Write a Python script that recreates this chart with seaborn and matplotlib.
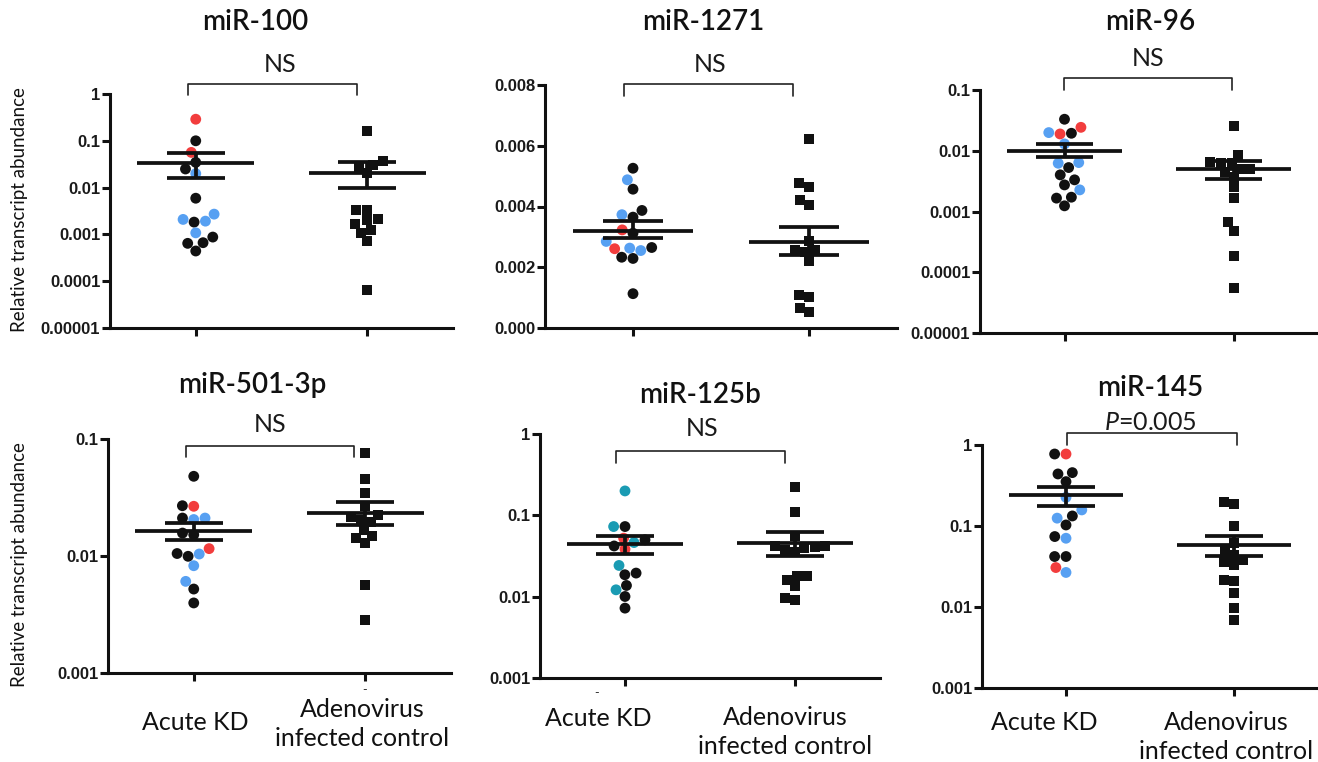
import numpy as np
import pandas as pd
import matplotlib
matplotlib.use("Agg")
import matplotlib.pyplot as plt
import seaborn as sns
from matplotlib import font_manager
from matplotlib.ticker import FixedLocator, FixedFormatter, NullLocator

# ---------------- data ----------------
groups = ["Acute KD", "Adenovirus infected control"]
titles = ["miR-100", "miR-1271", "miR-96", "miR-501-3p", "miR-125b", "miR-145"]
stat_labels = ["NS", "NS", "NS", "NS", "NS", "$P$=0.005"]

mir100_kd = [0.289, 0.0565, 0.100, 0.0346, 0.0250, 0.0199, 0.00593, 0.00209,
             0.00183, 0.00271, 0.00192, 0.00108, 0.000665, 0.000644, 0.000877, 0.000442]
mir100_kd_col = ["r", "r", "k", "k", "k", "b", "k", "b", "k", "b", "b", "b", "k", "k", "k", "k"]
mir100_ctrl = [0.163, 0.0308, 0.0275, 0.0363, 0.0205, 0.0034, 0.0033, 0.00209,
               0.00163, 0.00202, 0.00124, 0.00108, 0.000733, 0.0000654]

mir1271_kd = [0.00526, 0.00488, 0.00457, 0.00387, 0.00373, 0.00365, 0.00323, 0.00312,
              0.00285, 0.00265, 0.00261, 0.00255, 0.00263, 0.00233, 0.00229, 0.00113]
mir1271_kd_col = ["k", "b", "k", "k", "b", "k", "r", "k", "b", "k", "r", "b", "b", "k", "k", "k"]
mir1271_ctrl = [0.00621, 0.00477, 0.00464, 0.00422, 0.00405, 0.00285, 0.00258, 0.00249,
                0.00258, 0.00219, 0.00107, 0.00102, 0.00067, 0.000515]

mir96_kd = [0.0330, 0.0243, 0.0194, 0.0199, 0.0189, 0.01295, 0.00623, 0.00639,
            0.00529, 0.00401, 0.00332, 0.00274, 0.00227, 0.00172, 0.00166, 0.00124]
mir96_kd_col = ["k", "r", "k", "b", "r", "b", "b", "b", "k", "k", "k", "k", "b", "k", "k", "k"]
mir96_ctrl = [0.0256, 0.00855, 0.0066, 0.0064, 0.0063, 0.0050, 0.0050, 0.0045,
              0.0037, 0.00251, 0.00166, 0.00066, 0.00048, 0.000182, 0.0000549]

mir501_kd = [0.048, 0.0269, 0.0266, 0.0211, 0.0211, 0.0205, 0.0157, 0.0152,
             0.01156, 0.0104, 0.00994, 0.0105, 0.00826, 0.00607, 0.00522, 0.00397]
mir501_kd_col = ["k", "k", "r", "k", "b", "b", "k", "k", "r", "b", "k", "k", "b", "b", "k", "k"]
mir501_ctrl = [0.0759, 0.0455, 0.0345, 0.027, 0.0226, 0.0205, 0.0215, 0.0195,
               0.0168, 0.0149, 0.0143, 0.0129, 0.00569, 0.00282]

mir125_kd = [0.1995, 0.0728, 0.0728, 0.0524, 0.0463, 0.0384, 0.050, 0.042,
             0.0242, 0.0186, 0.0195, 0.01373, 0.01214, 0.01005, 0.00723]
mir125_kd_col = ["t", "k", "t", "r", "t", "r", "k", "k", "t", "k", "k", "k", "t", "k", "k"]
mir125_ctrl = [0.2256, 0.1112, 0.055, 0.0421, 0.042, 0.041, 0.040, 0.038, 0.035,
               0.0177, 0.0161, 0.0182, 0.01334, 0.00913, 0.0096]

mir145_kd = [0.774, 0.774, 0.456, 0.439, 0.353, 0.226, 0.158, 0.133,
             0.125, 0.103, 0.0706, 0.0741, 0.042, 0.042, 0.0307, 0.0267]
mir145_kd_col = ["k", "r", "k", "k", "k", "b", "b", "k", "b", "k", "b", "k", "k", "k", "r", "b"]
mir145_ctrl = [0.2, 0.1855, 0.1, 0.0613, 0.05, 0.044, 0.0382, 0.0364, 0.0331,
               0.0212, 0.0216, 0.0151, 0.0097, 0.00682]

# mean, upper SEM, lower SEM  [KD, control]
mean_vals = [[0.0335, 0.0205], [0.00320, 0.00283], [0.01007, 0.00503],
             [0.01625, 0.0233], [0.0442, 0.0463], [0.2417, 0.0585]]
sem_hi = [[0.0549, 0.0346], [0.00351, 0.00334], [0.01295, 0.00689],
          [0.0191, 0.0288], [0.0559, 0.0632], [0.306, 0.0755]]
sem_lo = [[0.0158, 0.00984], [0.00296, 0.00241], [0.00782, 0.0034],
          [0.0138, 0.0183], [0.0333, 0.0312], [0.179, 0.0428]]

log_ticks_6 = [1, 0.1, 0.01, 0.001, 0.0001, 0.00001]
log_labels_6 = ["1", "0.1", "0.01", "0.001", "0.0001", "0.00001"]
lin_ticks = [0.0, 0.002, 0.004, 0.006, 0.008]
lin_labels = ["0.000", "0.002", "0.004", "0.006", "0.008"]
ticks_96 = [0.1, 0.01, 0.001, 0.0001, 0.00001]
labels_96 = ["0.1", "0.01", "0.001", "0.0001", "0.00001"]
ticks_501 = [0.1, 0.01, 0.001]
labels_501 = ["0.1", "0.01", "0.001"]
ticks_3dec = [1, 0.1, 0.01, 0.001]
labels_3dec = ["1", "0.1", "0.01", "0.001"]

# ---------------- style ----------------
sns.set_theme(style="ticks")
plt.rcParams["font.family"] = ["Lato", "DejaVu Sans"]
plt.rcParams["mathtext.fontset"] = "custom"
plt.rcParams["mathtext.it"] = "Lato:italic"
plt.rcParams["mathtext.rm"] = "Lato"

names = {f.name for f in font_manager.fontManager.ttflist}
tick_family = "Liberation Sans Narrow" if "Liberation Sans Narrow" in names else "Liberation Sans"

palette = {"k": "#111111", "r": "#f23d3d", "b": "#57a0f2", "t": "#1a9bb3"}
INK = "#111111"

W, H = 1318, 762
fig = plt.figure(figsize=(W / 100, H / 100), dpi=100)
fig.patch.set_facecolor("white")


def fx(x):
    return x / W


def fy(y):
    return 1 - y / H


# layout (pixels): left, right, top, bottom
boxes = [(110, 453, 94, 328), (545, 897, 85, 328), (980, 1318, 90, 333),
         (108, 451, 439, 673), (540, 880, 434, 678), (982, 1318, 445, 688)]

panels = [
    (mir100_kd, mir100_kd_col, mir100_ctrl, "log", (0.00001, 1), log_ticks_6, log_labels_6),
    (mir1271_kd, mir1271_kd_col, mir1271_ctrl, "linear", (0, 0.008), lin_ticks, lin_labels),
    (mir96_kd, mir96_kd_col, mir96_ctrl, "log", (0.00001, 0.1), ticks_96, labels_96),
    (mir501_kd, mir501_kd_col, mir501_ctrl, "log", (0.001, 0.1), ticks_501, labels_501),
    (mir125_kd, mir125_kd_col, mir125_ctrl, "log", (0.001, 1), ticks_3dec, labels_3dec),
    (mir145_kd, mir145_kd_col, mir145_ctrl, "log", (0.001, 1), ticks_3dec, labels_3dec),
]

title_pos = [(255, 22), (703, 22), (1150, 22), (252, 385), (700, 395), (1150, 388)]
stat_pos = [(280, 65), (710, 65), (1148, 58), (270, 425), (702, 429), (1150, 422)]
# bracket: x0, x1 (data), y top, y tip (axes fraction)
brackets = [(-0.045, 0.94, 1.043, 0.996), (-0.051, 0.909, 1.004, 0.955),
            (-0.003, 0.991, 1.049, 1.0), (-0.045, 0.934, 0.970, 0.923),
            (-0.053, 0.941, 0.930, 0.881), (0.006, 1.018, 1.049, 1.0)]

for i, (kd, kd_col, ctrl, scale, ylim, yt, ytl) in enumerate(panels):
    l, r, t, b = boxes[i]
    ax = fig.add_axes([fx(l), fy(b), (r - l) / W, (b - t) / H])
    ax.set_facecolor("none")
    if scale == "log":
        ax.set_yscale("log")
    df_kd = pd.DataFrame({"group": groups[0], "value": kd, "colour": kd_col})
    df_c = pd.DataFrame({"group": groups[1], "value": ctrl})
    sns.swarmplot(data=df_kd, x="group", y="value", hue="colour", palette=palette,
                  order=groups, marker="o", size=7.8, linewidth=0, legend=False,
                  ax=ax, zorder=2, warn_thresh=1)
    sns.swarmplot(data=df_c, x="group", y="value", order=groups, color=INK,
                  marker="s", size=7.2, linewidth=0, ax=ax, zorder=2, warn_thresh=1)
    for c in range(2):
        ax.hlines(mean_vals[i][c], c - 0.34, c + 0.34, color=INK, lw=2.7, zorder=4)
        ax.hlines([sem_hi[i][c], sem_lo[i][c]], c - 0.17, c + 0.17, color=INK, lw=2.7, zorder=4)
        ax.vlines(c, sem_lo[i][c], sem_hi[i][c], color=INK, lw=2.7, zorder=4)

    ax.set_xlim(-0.5, 1.5)
    ax.set_ylim(*ylim)
    ax.yaxis.set_major_locator(FixedLocator(yt))
    ax.yaxis.set_major_formatter(FixedFormatter(ytl))
    ax.yaxis.set_minor_locator(NullLocator())
    ax.set_xticks([0, 1])
    ax.set_xticklabels(["", ""])
    ax.set_xlabel("")
    ax.set_ylabel("")
    for s in ["top", "right"]:
        ax.spines[s].set_visible(False)
    for s in ["left", "bottom"]:
        ax.spines[s].set_linewidth(2.2)
        ax.spines[s].set_color(INK)
    ax.tick_params(axis="both", which="major", direction="out", length=6, width=2.2,
                   color=INK, left=True, bottom=True, pad=1)
    ax.tick_params(axis="y", labelsize=12, labelcolor="#1a1a1a")
    for lab in ax.get_yticklabels():
        lab.set_fontfamily(tick_family)
        lab.set_fontweight("bold")

    # significance bracket
    x0, x1, yt_, ytip = brackets[i]
    btr = ax.get_xaxis_transform()
    ax.plot([x0, x0, x1, x1], [ytip, yt_, yt_, ytip], transform=btr, color="#222222",
            lw=1.2, clip_on=False, zorder=5)

    fig.text(fx(title_pos[i][0]), fy(title_pos[i][1]), titles[i], ha="center", va="center",
             fontsize=20, fontweight="semibold", color=INK)
    fig.text(fx(stat_pos[i][0]), fy(stat_pos[i][1]), stat_labels[i], ha="center", va="center",
             fontsize=18, color="#1a1a1a")

# y axis labels
for yc in (210, 565):
    fig.text(fx(20), fy(yc), "Relative transcript abundance", rotation=90, ha="center",
             va="center", fontsize=13.5, color=INK)

# x category labels (bottom row only)
xlab_pos = [((195, 722), (362, 724)), ((598, 718), (785, 732)), ((1044, 722), (1226, 737))]
for (p_kd, p_c) in xlab_pos:
    fig.text(fx(p_kd[0]), fy(p_kd[1]), groups[0], ha="center", va="center", fontsize=18, color=INK)
    fig.text(fx(p_c[0]), fy(p_c[1]), "Adenovirus\ninfected control", ha="center", va="center",
             fontsize=18, color=INK, linespacing=1.3, multialignment="center")

# small stray dashes present in the original figure
for (sx, sy) in [(365, 690), (597, 693)]:
    fig.text(fx(sx), fy(sy), "-", ha="center", va="center", fontsize=9, color="#333333")

fig.savefig("out.png", dpi=100, facecolor="white")
